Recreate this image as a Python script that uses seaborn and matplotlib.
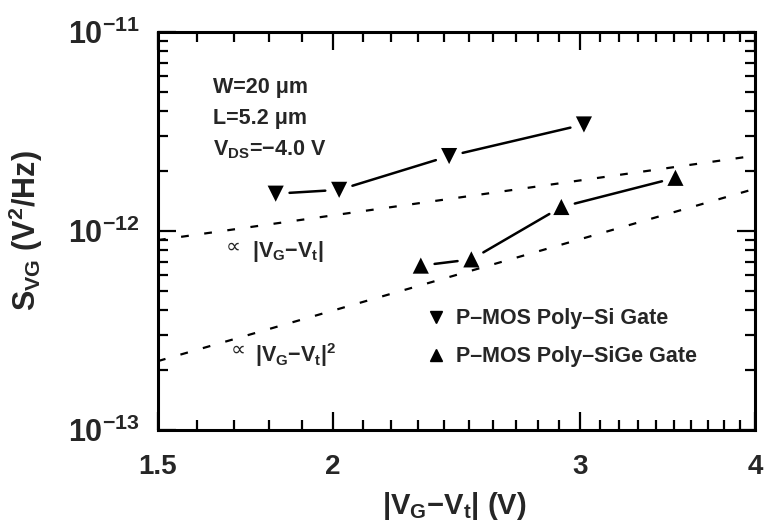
import numpy as np
import seaborn as sns
import matplotlib.pyplot as plt
from matplotlib.lines import Line2D
from matplotlib.ticker import FixedLocator, LogLocator, NullFormatter

# values
si_vg = [1.82, 2.02, 2.42, 3.02]
si_svg = [1.54e-12, 1.61e-12, 2.38e-12, 3.43e-12]
sige_vg = [2.31, 2.51, 2.91, 3.51]
sige_svg = [6.7e-13, 7.2e-13, 1.32e-12, 1.85e-12]

# dashed guide lines (end points, straight on log-log)
lin_vg = [1.5, 4.0]
lin_svg = [9.0e-13, 2.39e-12]
sq_vg = [1.5, 4.0]
sq_svg = [2.22e-13, 1.63e-12]

x_ticks = [1.5, 2, 3, 4]
x_labels = ['1.5', '2', '3', '4']
y_ticks = [1e-13, 1e-12, 1e-11]
y_labels = ['$10^{-13}$', '$10^{-12}$', '$10^{-11}$']
legend_labels = ['P–MOS Poly–Si Gate', 'P–MOS Poly–SiGe Gate']

sns.set_style('ticks')
plt.rcParams['font.family'] = ['Liberation Sans', 'DejaVu Sans']
plt.rcParams['font.weight'] = 'bold'
plt.rcParams['axes.labelweight'] = 'bold'
plt.rcParams['mathtext.default'] = 'regular'

fig = plt.figure(figsize=(7.64, 5.26), dpi=100)
ax = fig.add_axes([0.2068, 0.1825, 0.7814, 0.7567])
ax.set_xscale('log')
ax.set_yscale('log')

# guide lines
sns.lineplot(x=lin_vg, y=lin_svg, ax=ax, color='black', lw=1.6, linestyle=(0, (3.5, 7)))
sns.lineplot(x=sq_vg, y=sq_svg, ax=ax, color='black', lw=1.6, linestyle=(0, (3.5, 7)))

# data points
sns.scatterplot(x=si_vg, y=si_svg, marker='v', s=135, color='black', edgecolor='none', ax=ax)
sns.scatterplot(x=sige_vg, y=sige_svg, marker='^', s=135, color='black', edgecolor='none', ax=ax)

# connecting segments, shortened so they stop short of the markers
for xs, ys in [(si_vg, si_svg), (sige_vg, sige_svg)]:
    for i in range(len(xs) - 1):
        ax.annotate('', xy=(xs[i + 1], ys[i + 1]), xytext=(xs[i], ys[i]),
                    arrowprops=dict(arrowstyle='-', color='black', lw=1.8,
                                    shrinkA=10, shrinkB=10))

ax.set_xlim(1.5, 4)
ax.set_ylim(1e-13, 1e-11)
ax.xaxis.set_major_locator(FixedLocator(x_ticks))
ax.set_xticklabels(x_labels)
ax.xaxis.set_minor_locator(FixedLocator(np.arange(1.5, 4.01, 0.1)))
ax.xaxis.set_minor_formatter(NullFormatter())
ax.set_yticks(y_ticks)
ax.set_yticklabels(y_labels)
ax.yaxis.set_minor_locator(LogLocator(base=10, subs=np.arange(2, 10)))
ax.yaxis.set_minor_formatter(NullFormatter())

ax.tick_params(which='both', direction='in', top=True, right=True, width=1.6, color='black')
ax.tick_params(which='major', length=13)
ax.tick_params(which='minor', length=7)
ax.tick_params(axis='x', which='major', labelsize=20, pad=17)
ax.tick_params(axis='y', which='major', labelsize=22, pad=13)
for s in ax.spines.values():
    s.set_linewidth(2.2)
    s.set_color('black')

ax.set_xlabel('|V$_G$−V$_t$| (V)', fontsize=21, fontweight='bold')
ax.xaxis.set_label_coords(0.497, -0.151)
ax.set_ylabel('S$_{VG}$ (V$^2$/Hz)', fontsize=22, fontweight='bold')
ax.yaxis.set_label_coords(-0.19, 0.5)

# device parameters
ax.text(0.092, 0.847, 'W=20 μm', transform=ax.transAxes, fontsize=15.5, va='baseline')
ax.text(0.092, 0.769, 'L=5.2 μm', transform=ax.transAxes, fontsize=15.5, va='baseline')
ax.text(0.092, 0.691, 'V$_{DS}$=−4.0 V', transform=ax.transAxes, fontsize=15.5, va='baseline')

# slope labels
ax.text(0.126, 0.46, '∝', transform=ax.transAxes, fontsize=15, fontweight='normal',
        ha='center', va='center')
ax.text(0.157, 0.435, '|V$_G$−V$_t$|', transform=ax.transAxes, fontsize=15.5, va='baseline')
ax.text(0.134, 0.201, '∝', transform=ax.transAxes, fontsize=15, fontweight='normal',
        ha='center', va='center')
ax.text(0.1625, 0.171, '|V$_G$−V$_t$|$^2$', transform=ax.transAxes, fontsize=15.5, va='baseline')

handles = [Line2D([], [], marker='v', ls='none', color='black', ms=9),
           Line2D([], [], marker='^', ls='none', color='black', ms=9)]
ax.legend(handles, legend_labels, loc='center left', bbox_to_anchor=(427 / 764, 0.358),
          bbox_transform=fig.transFigure, frameon=False, fontsize=15.5, handlelength=0.8,
          handletextpad=0.56, labelspacing=0.8, borderpad=0, borderaxespad=0,
          prop={'weight': 'bold', 'size': 15.5})

fig.savefig('out.png', dpi=100)
